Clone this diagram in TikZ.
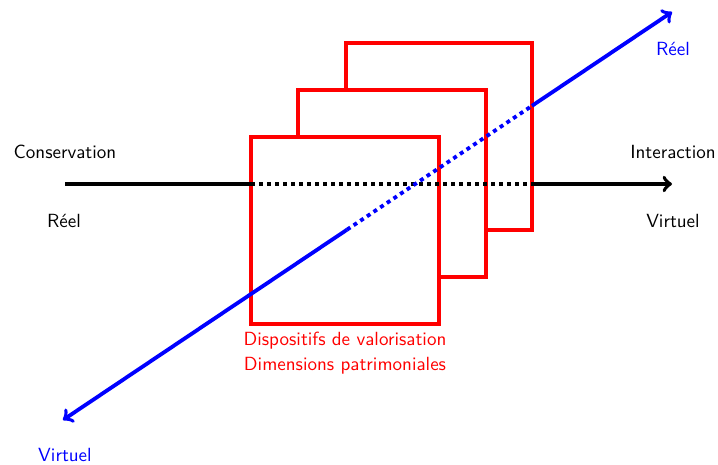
\documentclass[tikz,border=0pt]{standalone}
\usepackage{tikz}
\begin{document}
\begin{tikzpicture}[x=0.525pt,y=-0.525pt,
  redbox/.style={draw=red,line width=1.8pt,line join=miter},
  axis/.style={line width=2pt},
  dotline/.style={line width=2pt,dash pattern=on 2.1pt off 2.1pt},
  lab/.style={font=\sffamily,inner sep=0pt}]
\useasboundingbox (0,0) rectangle (718,465);
% red squares
\draw[redbox] (251,137) rectangle (439,324);
\draw[redbox] (298,137) -- (298,90) -- (486,90) -- (486,277) -- (439,277);
\draw[redbox] (346,90) -- (346,43) -- (532,43) -- (532,230) -- (486,230);
% horizontal axis
\coordinate (hL) at (65,184);
\coordinate (hA) at (251,184);
\coordinate (hB) at (532,184);
\coordinate (hR) at (672,184);
\draw[axis] (hL) -- (hA);
\draw[dotline] (hA) -- (hB);
\draw[axis,->] (hB) -- (hR);
% diagonal axis
\coordinate (bL) at (63,420);
\coordinate (bA) at (347,229.7);
\coordinate (bB) at (532,105.8);
\coordinate (bR) at (672,12);
\draw[axis,blue,->] (bA) -- (bL);
\draw[dotline,blue] (bA) -- (bB);
\draw[axis,blue,->] (bB) -- (bR);
% labels
\node[lab] (cons) at (65,152) {Conservation};
\node[lab] (reel1) at (64,221) {Réel};
\node[lab] (inter) at (673,152) {Interaction};
\node[lab] (virt1) at (673,221) {Virtuel};
\node[lab,blue] (reel2) at (673,49) {Réel};
\node[lab,blue] (virt2) at (65,455) {Virtuel};
\node[lab,red] (disp) at (345,341) {Dispositifs de valorisation};
\node[lab,red] (dim) at (345,366) {Dimensions patrimoniales};
\end{tikzpicture}
\end{document}
